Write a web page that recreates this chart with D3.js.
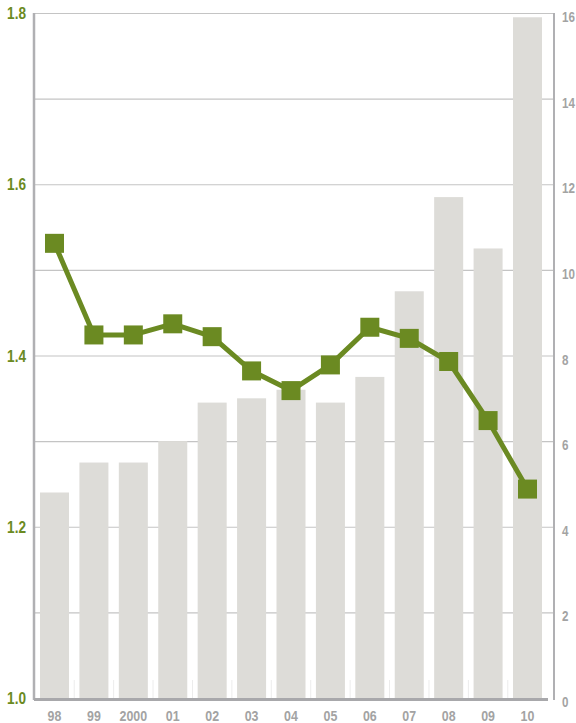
<!DOCTYPE html>
<html>
<head>
<meta charset="utf-8">
<script src="https://cdn.jsdelivr.net/npm/d3@7"></script>
<style>
  body { margin: 0; background: #fff; }
  text { font-family: "Liberation Sans", Arial, sans-serif; font-weight: bold; }
</style>
</head>
<body>
<script>
// years on the x axis
const years = ["98", "99", "2000", "01", "02", "03", "04", "05", "06", "07", "08", "09", "10"];
// bar series (right axis, 0-16)
const barValues = [4.8, 5.5, 5.5, 6.0, 6.9, 7.0, 7.2, 6.9, 7.5, 9.5, 11.7, 10.5, 15.9];
// line series (left axis, 1.0-1.8)
const lineValues = [1.531, 1.424, 1.424, 1.437, 1.422, 1.382, 1.359, 1.389, 1.433, 1.420, 1.393, 1.324, 1.244];
const leftTicks = [1.0, 1.2, 1.4, 1.6, 1.8];
const rightTicks = [0, 2, 4, 6, 8, 10, 12, 14, 16];

const svgWidth = 576;
const svgHeight = 723;

const green = "#6b8a22";
const barGray = "#dddcd8";
const labelGray = "#a3a3a3";
const squeeze = 0.8; // condensed look for the labels

const plotLeft = 34;
const plotRight = 554;
const plotTop = 13;
const plotBottom = 698;

let svg = d3.select("body")
    .append("svg")
    .attr("width", svgWidth)
    .attr("height", svgHeight);

// scales
const x = d3.scaleBand()
    .domain(years)
    .range([plotLeft, 548])
    .paddingInner(0.264)
    .paddingOuter(0.152);

const yLeft = d3.scaleLinear()
    .domain([1.0, 1.8])
    .range([plotBottom, plotTop]);

const yRight = d3.scaleLinear()
    .domain([0, 16])
    .range([plotBottom, plotTop]);

// horizontal gridlines
svg.append("g")
    .selectAll("line")
    .data(rightTicks.slice(1))
    .enter()
    .append("line")
    .attr("x1", plotLeft)
    .attr("x2", plotRight)
    .attr("y1", d => yRight(d) + 0.5)
    .attr("y2", d => yRight(d) + 0.5)
    .attr("stroke", "#c4c4c4")
    .attr("stroke-width", 1.2);

// bars
svg.append("g")
    .selectAll("rect")
    .data(barValues)
    .enter()
    .append("rect")
    .attr("x", (d, i) => x(years[i]))
    .attr("y", d => yRight(d))
    .attr("width", x.bandwidth())
    .attr("height", d => plotBottom - yRight(d))
    .attr("fill", barGray);

// faint separators between bars at the bottom
svg.append("g")
    .selectAll("line")
    .data(years.slice(1))
    .enter()
    .append("line")
    .attr("x1", d => x(d) - x.step() * x.paddingInner() / 2)
    .attr("x2", d => x(d) - x.step() * x.paddingInner() / 2)
    .attr("y1", plotBottom - 18)
    .attr("y2", plotBottom)
    .attr("stroke", "#ececec")
    .attr("stroke-width", 1);

// axis lines
svg.append("line")
    .attr("x1", plotLeft).attr("x2", plotLeft)
    .attr("y1", plotTop).attr("y2", plotBottom + 2)
    .attr("stroke", "#b0b0b3").attr("stroke-width", 2.5);
svg.append("line")
    .attr("x1", plotLeft).attr("x2", 548)
    .attr("y1", plotBottom + 1.5).attr("y2", plotBottom + 1.5)
    .attr("stroke", "#a8a8ab").attr("stroke-width", 3);
svg.append("line")
    .attr("x1", plotRight).attr("x2", plotRight)
    .attr("y1", plotTop).attr("y2", plotBottom + 2)
    .attr("stroke", "#b0b0b3").attr("stroke-width", 2);

// x labels
svg.append("g")
    .selectAll("text")
    .data(years)
    .enter()
    .append("text")
    .attr("transform", d => `translate(${x(d) + x.bandwidth() / 2}, 721) scale(${squeeze}, 1)`)
    .attr("text-anchor", "middle")
    .attr("font-size", "15.5px")
    .attr("fill", labelGray)
    .text(d => d);

// left axis labels
svg.append("g")
    .selectAll("text")
    .data(leftTicks)
    .enter()
    .append("text")
    .attr("transform", d => `translate(26, ${yLeft(d) + 6}) scale(${squeeze}, 1)`)
    .attr("text-anchor", "end")
    .attr("font-size", "17px")
    .attr("fill", green)
    .text(d => d3.format(".1f")(d));

// right axis labels
svg.append("g")
    .selectAll("text")
    .data(rightTicks)
    .enter()
    .append("text")
    .attr("transform", d => `translate(562, ${yRight(d) + 9}) scale(${squeeze}, 1)`)
    .attr("text-anchor", "start")
    .attr("font-size", "14.5px")
    .attr("fill", labelGray)
    .text(d => d);

// line + square markers
const line = d3.line()
    .x((d, i) => x(years[i]) + x.bandwidth() / 2)
    .y(d => yLeft(d));

svg.append("path")
    .datum(lineValues)
    .attr("d", line)
    .attr("fill", "none")
    .attr("stroke", green)
    .attr("stroke-width", 5)
    .attr("stroke-linejoin", "round");

const markerSize = 19;
svg.append("g")
    .selectAll("rect")
    .data(lineValues)
    .enter()
    .append("rect")
    .attr("x", (d, i) => x(years[i]) + x.bandwidth() / 2 - markerSize / 2)
    .attr("y", d => yLeft(d) - markerSize / 2)
    .attr("width", markerSize)
    .attr("height", markerSize)
    .attr("fill", green);
</script>
</body>
</html>
